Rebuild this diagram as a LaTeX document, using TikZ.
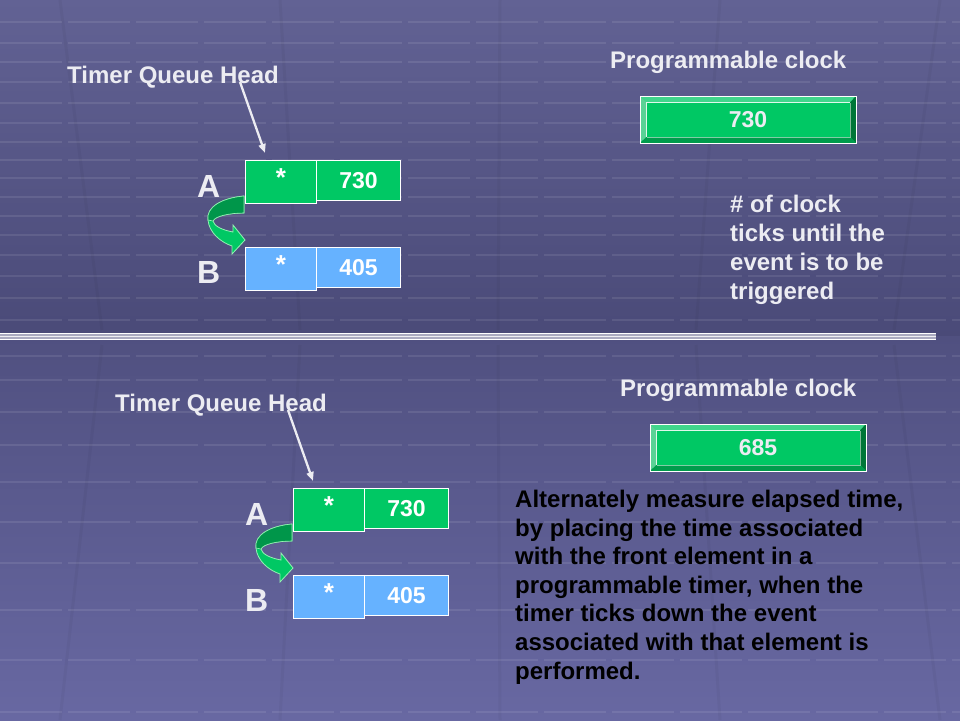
\documentclass[tikz,border=0pt]{standalone}
\usepackage{fontspec}
\setmainfont{Liberation Sans}
\usetikzlibrary{arrows.meta}
\definecolor{bgtop}{RGB}{98,98,148}
\definecolor{bgmid}{RGB}{74,74,120}
\definecolor{bgmidb}{RGB}{80,80,128}
\definecolor{bgbot}{RGB}{104,104,162}
\definecolor{qgreen}{RGB}{0,200,100}
\definecolor{qgreendk}{RGB}{0,150,74}
\definecolor{qblue}{RGB}{102,178,255}
\definecolor{lbltxt}{RGB}{236,236,242}
\definecolor{bevtop}{RGB}{64,214,140}
\definecolor{bevleft}{RGB}{90,210,150}
\definecolor{bevdark}{RGB}{0,118,56}
\definecolor{bevbot}{RGB}{0,156,76}
\definecolor{sepgrey}{RGB}{170,170,192}
\tikzset{
  lbl/.style={inner sep=0pt, text=lbltxt, font={\bfseries\fontsize{24}{29}\selectfont}},
  biglbl/.style={inner sep=0pt, text=lbltxt, font={\bfseries\fontsize{32}{36}\selectfont}},
  cell/.style={draw=white, line width=1pt, inner sep=0pt, anchor=north west, text=white},
  numcell/.style={cell, minimum width=84pt, minimum height=40pt, font={\bfseries\fontsize{23}{26}\selectfont}},
  starcell/.style={cell, minimum width=71pt, minimum height=43pt},
  startxt/.style={inner sep=0pt, text=white, font={\bfseries\fontsize{26}{26}\selectfont}},
  ptr/.style={draw=lbltxt, line width=2.3pt, -{Triangle[length=9pt,width=7pt]}},
  gridl/.style={white, opacity=0.09, line width=1.3pt, dash pattern=on 62pt off 6pt},
  gridv/.style={black, opacity=0.035, line width=3pt},
  pics/queue/.style={code={
    \node[lbl, anchor=base west] (-head) at (67,83) {Timer Queue Head};
    \node[biglbl, anchor=base west] (-A) at (197,197) {A};
    \node[biglbl, anchor=base west] (-B) at (197,283) {B};
    \node[numcell, fill=qgreen] (-nA) at (316,160) {730};
    \node[starcell, fill=qgreen] (-sA) at (245,160) {};
    \node[startxt] (-stA) at ([yshift=4.5pt]-sA.center) {*};
    \node[numcell, fill=qblue] (-nB) at (316,247) {405};
    \node[starcell, fill=qblue] (-sB) at (245,247) {};
    \node[startxt] (-stB) at ([yshift=4.5pt]-sB.center) {*};
    \coordinate (-from) at (240,82);
    \coordinate (-to) at (265,153);
    \draw[ptr] (-from) -- (-to);
    % curved ribbon arrow from A to B
    \fill[qgreen, draw={rgb,255:red,150;green,240;blue,180}, line width=0.8pt]
      (244,196) .. controls (222,198) and (206,207) .. (208,220)
      .. controls (209,232) and (220,242) .. (232,246)
      -- (232,254) -- (245,240) -- (233,225) -- (233,232)
      .. controls (222,230) and (214,226) .. (213,221)
      .. controls (215,216) and (230,213) .. (244,213) -- cycle;
    \fill[qgreendk, draw={rgb,255:red,150;green,240;blue,180}, line width=0.6pt]
      (244,196) .. controls (222,198) and (206,207) .. (208,220)
      -- (213,221) .. controls (215,216) and (230,213) .. (244,213) -- cycle;
  }},
  pics/clock/.style={code={
    \node[lbl, anchor=base west] (-title) at (-30,-28) {Programmable clock};
    \node[draw=white, line width=0.8pt, inner sep=0pt, minimum width=216pt, minimum height=47pt, anchor=north west, fill=qgreen] (-box) at (0,0) {};
    \fill[bevtop] (0,0) -- (216,0) -- (210,6.5) -- (6.5,6.5) -- cycle;
    \fill[bevleft] (0,0) -- (6.5,6.5) -- (6.5,41) -- (0,47) -- cycle;
    \fill[bevdark] (216,0) -- (216,47) -- (210,41) -- (210,6.5) -- cycle;
    \fill[bevbot] (0,47) -- (216,47) -- (210,41) -- (6.5,41) -- cycle;
    \draw[white, line width=0.9pt] (0,0) rectangle (216,47);
    \draw[white, opacity=0.85, line width=0.7pt] (6.5,41) -- (6.5,6.5) -- (210,6.5);
    \draw[white, opacity=0.5, line width=0.6pt] (210,6.5) -- (210,41) -- (6.5,41);
    \node[inner sep=0pt, text=lbltxt, font={\bfseries\fontsize{23}{26}\selectfont}] (-val) at (108,24) {#1};
  }}
}
\begin{document}
\begin{tikzpicture}[x=1pt,y=-1pt]
\useasboundingbox (0,0) rectangle (960,720);
% background
\fill[top color=bgtop, bottom color=bgmid] (0,0) rectangle (960,336);
\fill[top color=bgmidb, bottom color=bgbot] (0,336) rectangle (960,720);
\foreach \yy in {22,43,62,82,103,123,142,160,178,197,216,235,255,276,298,320}
  \draw[gridl] (0,\yy) -- (960,\yy);
\foreach \yy in {356,380,412,445,482,522,563,610,660,712}
  \draw[gridl] (0,\yy) -- (960,\yy);
\foreach \xb in {-160,60,280,500,720,940,1160}
  \draw[gridv] (\xb,720) -- ({480+(\xb-480)*0.9},345);
\foreach \xb in {-160,60,280,500,720,940,1160}
  \draw[gridv] (\xb,0) -- ({480+(\xb-480)*0.9},330);
% separator
\fill[sepgrey] (0,333) rectangle (936,340);
\draw[white, line width=1.1pt] (0,333.3) -- (936,333.3);
\draw[white, opacity=0.8, line width=0.9pt] (0,336.5) -- (936,336.5);
\draw[white, line width=1.1pt] (0,339.6) -- (936,339.6);
% top panel
\pic (qt) at (0,0) {queue};
\pic (ct) at (640,96) {clock={730}};
\node[lbl, anchor=base west, align=left] (note) at (730,299)
  {\# of clock\\ticks until the\\event is to be\\triggered};
% bottom panel
\pic (qb) at (48,328) {queue};
\pic (cb) at (650,424) {clock={685}};
\node[inner sep=0pt, anchor=base west, align=left, text=black,
      font={\bfseries\fontsize{24}{28.6}\selectfont}] (para) at (515,679)
  {Alternately measure elapsed time,\\by placing the time associated\\with the front element in a\\programmable timer, when the\\timer ticks down the event\\associated with that element is\\performed.};
\end{tikzpicture}
\end{document}
